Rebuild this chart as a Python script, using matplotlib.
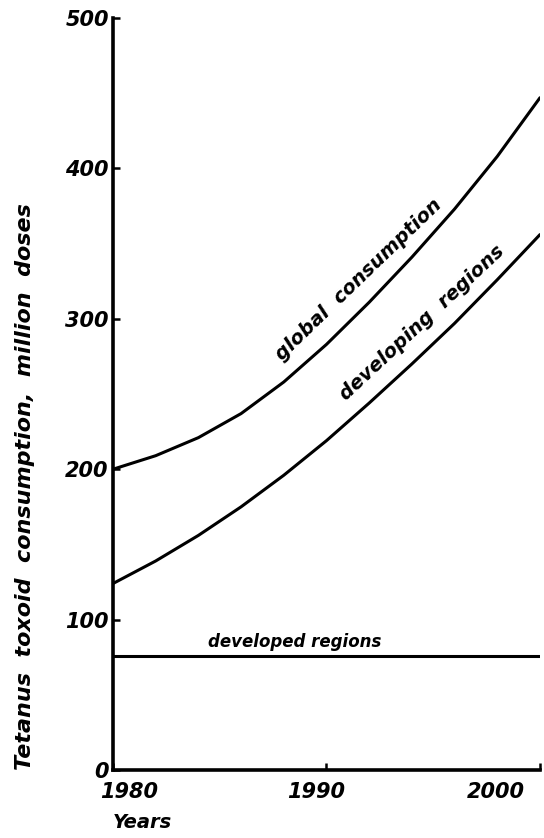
import matplotlib.pyplot as plt

# values (million doses)
years = [1980, 1982, 1984, 1986, 1988, 1990, 1992, 1994, 1996, 1998, 2000]
global_cons = [200, 209, 221, 237, 258, 283, 311, 341, 373, 408, 447]
developing = [124, 139, 156, 175, 196, 219, 244, 270, 297, 326, 356]
developed = [76, 76, 76, 76, 76, 76, 76, 76, 76, 76, 76]

y_ticks = [0, 100, 200, 300, 400, 500]
x_ticks = [1980, 1990, 2000]
x_offsets = [-13, -39, -73]  # label shifts in pixels, as printed

font = dict(family="DejaVu Sans", style="italic", weight="bold")

fig = plt.figure(figsize=(5.44, 8.38), dpi=100)
ax = fig.add_axes([0.2077, 0.0811, 0.7849, 0.8974])

lw = 2.2
ax.plot(years, global_cons, color="black", lw=lw, solid_capstyle="round")
ax.plot(years, developing, color="black", lw=lw, solid_capstyle="round")
ax.plot(years, developed, color="black", lw=lw, solid_capstyle="round")

ax.set_xlim(1980, 2000)
ax.set_ylim(0, 500)

for s in ["top", "right"]:
    ax.spines[s].set_visible(False)
for s in ["left", "bottom"]:
    ax.spines[s].set_linewidth(2.6)

ax.set_yticks(y_ticks)
ax.set_yticklabels([str(v) for v in y_ticks], fontsize=15, **font)
ax.set_xticks(x_ticks)
ax.set_xticklabels([])
ax.tick_params(axis="both", direction="in", length=5, width=1.8)
ax.tick_params(axis="y", pad=3)

for yr, off in zip(x_ticks, x_offsets):
    ax.annotate(str(yr), xy=(yr, 0), xycoords=("data", "axes fraction"),
                xytext=(off, -12), textcoords="offset pixels",
                ha="left", va="top", fontsize=15, **font)

ax.text(1991.5, 326, "global  consumption", rotation=44, ha="center", va="center",
        fontsize=14, **font)
ax.text(1994.5, 297, "developing  regions", rotation=43, ha="center", va="center",
        fontsize=14, **font)
ax.text(1988.5, 85, "developed regions", ha="center", va="center",
        fontsize=12, **font)

fig.text(25 / 544, 1 - 487 / 838, "Tetanus  toxoid  consumption,  million  doses",
         rotation=90, ha="center", va="center", fontsize=16, **font)
fig.text(113 / 544, 1 - 822 / 838, "Years", ha="left", va="center", fontsize=14, **font)

fig.savefig("out.png", dpi=100)
